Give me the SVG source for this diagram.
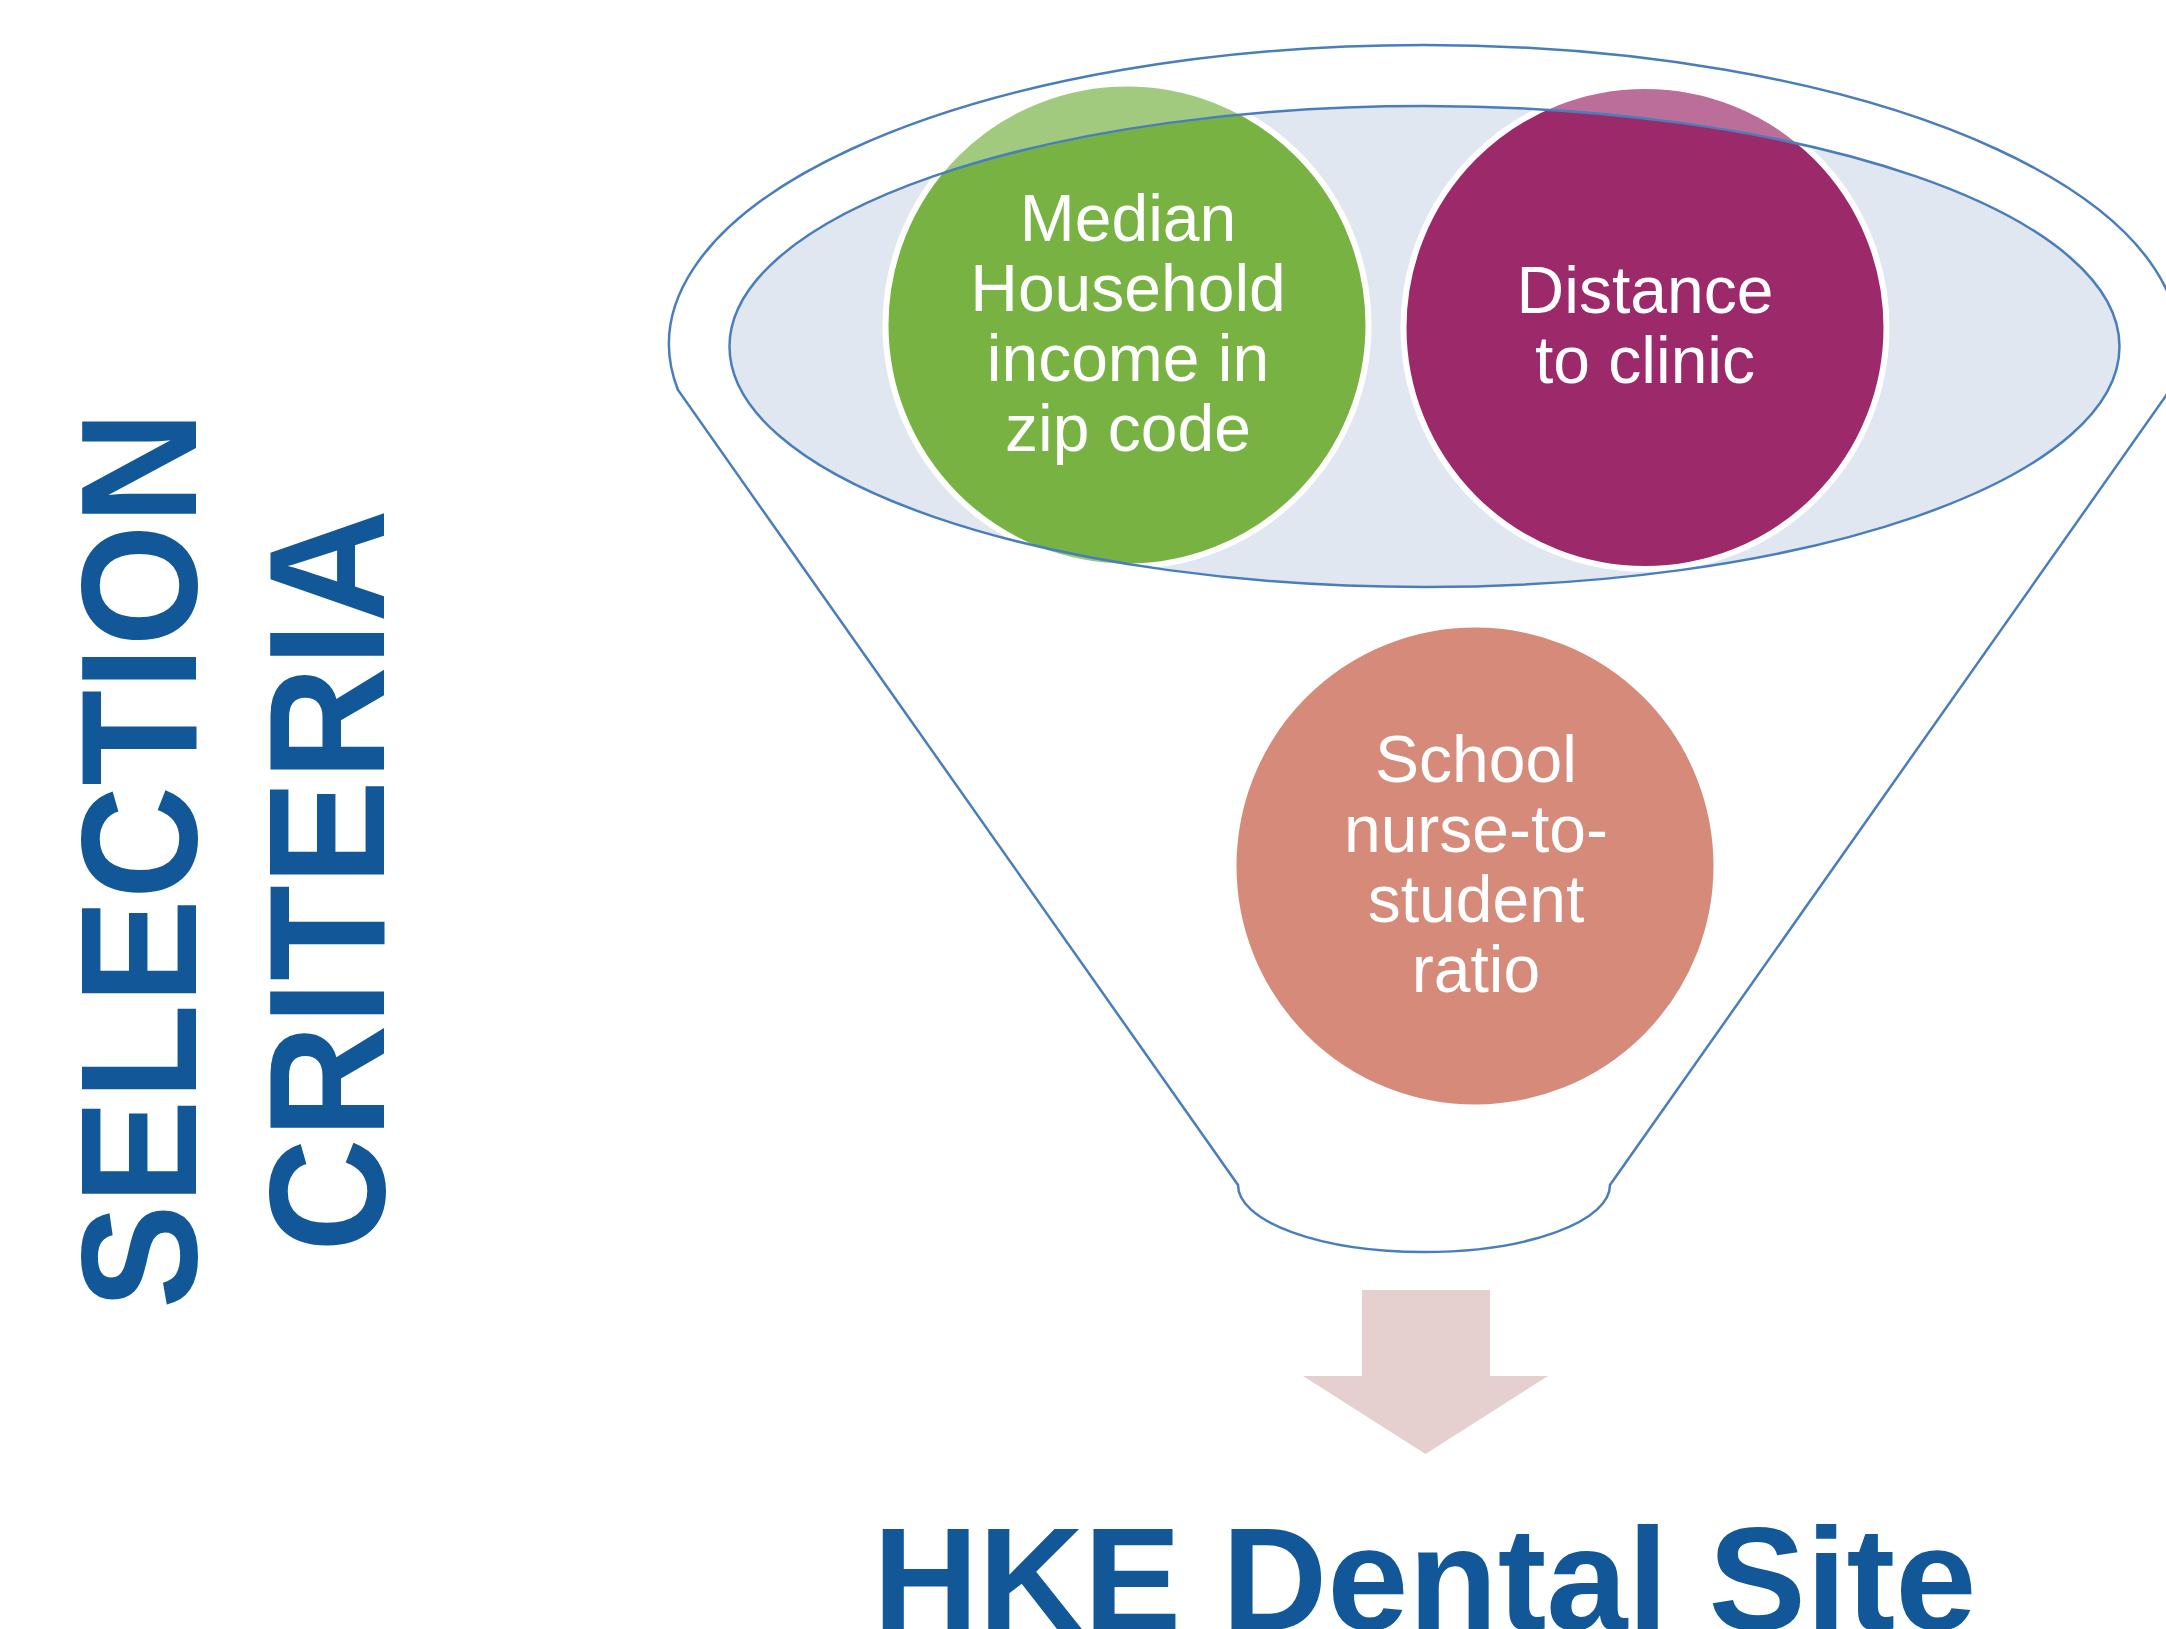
<svg xmlns="http://www.w3.org/2000/svg" width="2166" height="1629" viewBox="0 0 2166 1629">
  <style>
    .line { fill: none; stroke: #4A7EBB; stroke-width: 2.5; }
    .circ { stroke: #FFFFFF; stroke-width: 6; }
    .ctext { font-family: "Liberation Sans", Arial, sans-serif; font-size: 66px; fill: #FFFFFF; text-anchor: middle; }
    .title { font-family: "Liberation Sans", Arial, sans-serif; font-weight: bold; fill: #125797; }
  </style>
  <defs>
    <clipPath id="rimClip">
      <rect x="0" y="0" width="2166" height="580"/>
    </clipPath>
  </defs>
  <rect width="2166" height="1629" fill="#FFFFFF"/>

  <g id="side-title">
    <text class="title" font-size="165" transform="translate(196,1309) rotate(-90)" textLength="898" lengthAdjust="spacingAndGlyphs">SELECTION</text>
    <text class="title" font-size="165" transform="translate(384,1252) rotate(-90)" textLength="743" lengthAdjust="spacingAndGlyphs">CRITERIA</text>
  </g>

  <g id="funnel">
    <ellipse cx="1424.5" cy="346.5" rx="695" ry="240.5" fill="#E1E7F1"/>
  </g>

  <g id="node-income">
    <circle class="circ" cx="1127" cy="325" r="241.5" fill="#77B243"/>
    <text class="ctext" x="1128" y="240.7">Median</text>
    <text class="ctext" x="1128" y="310.7">Household</text>
    <text class="ctext" x="1128" y="380.7">income in</text>
    <text class="ctext" x="1128" y="450.7">zip code</text>
  </g>

  <g id="node-distance">
    <circle class="circ" cx="1645" cy="327.5" r="241.5" fill="#9C2A6A"/>
    <text class="ctext" x="1645" y="313">Distance</text>
    <text class="ctext" x="1645" y="383">to clinic</text>
  </g>

  <g id="node-nurse">
    <circle class="circ" cx="1475" cy="866" r="241.5" fill="#D58A7A"/>
    <text class="ctext" x="1476" y="782">School</text>
    <text class="ctext" x="1476" y="852">nurse-to-</text>
    <text class="ctext" x="1476" y="922">student</text>
    <text class="ctext" x="1476" y="992">ratio</text>
  </g>

  <g id="funnel-outline">
    <path clip-path="url(#rimClip)" d="M669,344 A755,299 0 0 1 2179,344 A755,299 0 0 1 669,344 Z M729.5,346.5 A695,240.5 0 0 0 2119.5,346.5 A695,240.5 0 0 0 729.5,346.5 Z" fill="#FFFFFF" fill-opacity="0.32" fill-rule="evenodd"/>
    <ellipse class="line" cx="1424.5" cy="346.5" rx="695" ry="240.5"/>
    <path class="line" d="M678,390 A755,299 0 1 1 2170,390 L1610,1185 A186,67 0 0 1 1238,1185 Z"/>
  </g>

  <g id="connectors">
    <polygon points="1362,1290 1490,1290 1490,1376 1548,1376 1425.5,1454 1303,1376 1362,1376" fill="#E6CFCF"/>
  </g>

  <g id="node-result">
    <text class="title" font-size="146" x="873" y="1630">HKE Dental Site</text>
  </g>
</svg>
